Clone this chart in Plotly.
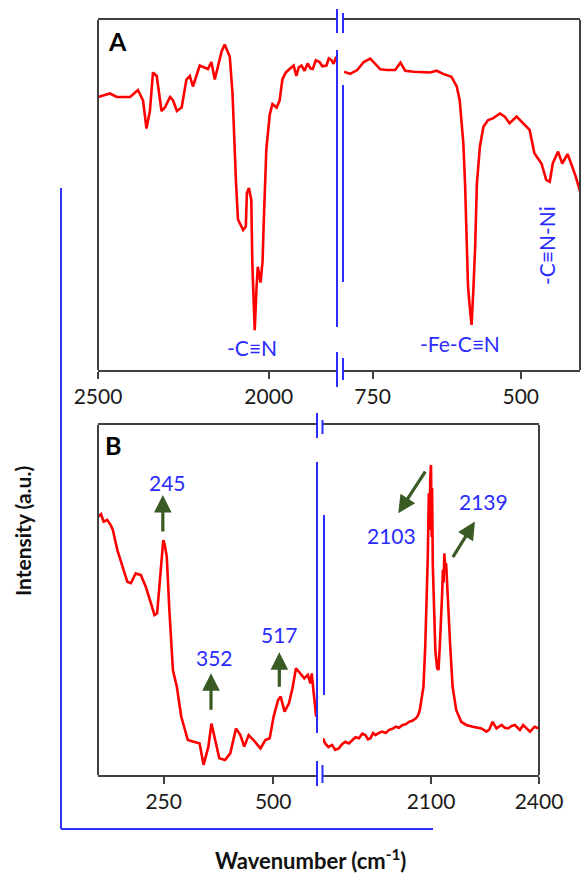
import plotly.graph_objects as go

W, H = 581, 874

# ---------------- Panel A (FTIR) ----------------
a_wn_left = [2500, 2465, 2445, 2406, 2383, 2368, 2358, 2348, 2339, 2328, 2314, 2304, 2289, 2280,
             2269, 2255, 2241, 2231, 2222, 2202, 2178, 2168, 2158, 2149, 2138, 2129, 2114, 2106,
             2102, 2096, 2090, 2075, 2067, 2064, 2058, 2051, 2048, 2044, 2041, 2036, 2032, 2024,
             2018, 2015, 2007, 1997, 1989, 1977, 1968, 1960, 1950, 1939, 1927, 1919, 1912, 1904,
             1895, 1886, 1878, 1871, 1862, 1851, 1843, 1831, 1824, 1817, 1810, 1802]
a_int_left = [78, 79, 78, 78, 80, 77, 69, 74, 85, 84, 74, 75, 78, 77,
              74, 75, 83, 84, 81, 87, 86, 88, 83, 87, 91, 93, 89.5, 79,
              68, 54, 43, 40, 41, 50.5, 52, 48.6, 30.5, 20, 11.4, 23, 29.5, 25,
              31, 41, 63, 73, 76, 75, 77, 83, 85, 86, 87, 84, 86.5, 87,
              85.5, 87.6, 86.2, 86, 88.5, 88, 86.8, 87, 89, 88.6, 87.5, 89.5]

a_wn_right = [798, 788, 776, 765, 754, 746, 737, 726, 712, 703, 695, 681, 653, 642, 631, 617,
              608, 603, 597, 594, 591, 589, 586, 583, 580, 577, 574, 569, 563, 555, 547, 535,
              527, 519, 507, 496, 485, 477, 465, 457, 451, 446, 437, 430, 421, 415, 407, 400]
a_int_right = [85.2, 84.6, 85.7, 88, 89, 87.6, 85.9, 85.7, 85.7, 87.8, 85.5, 85.2, 85, 85.5, 84.6, 83.8,
               81, 77, 65, 53.3, 39, 23.8, 18, 12.9, 22.9, 35, 53.3, 63.8, 69.5, 71.4, 71.9, 73.3,
               72.4, 70.5, 72.4, 70.5, 68.6, 61.9, 59, 54.3, 53.8, 59, 62.4, 59, 61.7, 59, 55.2, 51]

# ---------------- Panel B (Raman) ----------------
b_wn_left = [100, 107, 113, 121, 129, 134, 144, 156, 167, 175, 186, 198, 209, 221, 229, 235,
             240, 245, 249, 252, 257, 263, 271, 280, 290, 305, 317, 332, 341, 346, 352, 359, 367,
             377, 390, 402, 415, 425, 434, 444, 455, 471, 482, 492, 501, 511, 517, 526, 536,
             544, 552, 562, 571, 579, 585, 588, 594, 598]
b_int_left = [73.8, 74.5, 72.4, 72.9, 71.4, 70, 64.3, 59.5, 55.2, 54.8, 57.6, 57.1, 53.8, 49, 45.7, 46.2,
              52.9, 60, 67.1, 66, 62.4, 47, 30, 25.2, 16.7, 10, 9.5, 9, 2.9, 5.5, 8.1, 14.7, 10,
              4.8, 4.3, 6.2, 13.3, 11.4, 8.1, 11.4, 10, 7.6, 10, 10.5, 16.7, 21.4, 22.4, 18.1, 20.5,
              24.8, 30.5, 29, 27.6, 28.6, 26.2, 29, 20.5, 16.7]

b_wn_right = [1800, 1806, 1815, 1825, 1834, 1844, 1853, 1862, 1872, 1881, 1890, 1900, 1909, 1918,
              1925, 1932, 1939, 1946, 1955, 1965, 1974, 1984, 1993, 2002, 2011, 2021, 2030, 2039,
              2048, 2058, 2064, 2069, 2079, 2084, 2088, 2091, 2094, 2096, 2098, 2100, 2102, 2103,
              2105, 2107, 2112, 2117, 2121, 2125, 2128, 2131, 2133, 2135, 2137, 2139, 2142, 2146,
              2153, 2160, 2170, 2184, 2198, 2216, 2240, 2254, 2262, 2271, 2282, 2296, 2305, 2314,
              2324, 2333, 2347, 2356, 2366, 2375, 2388, 2400]
b_int_right = [10.5, 9, 8, 8.6, 7.2, 7.6, 8.8, 9.5, 9, 10, 10.8, 10.5, 11.8, 11.4,
               10.2, 10.5, 12, 11.4, 12, 12.4, 12, 12.9, 13.2, 13.8, 13.5, 14.3, 14.5, 15.2,
               15.5, 16.2, 17, 18.6, 25.2, 36.7, 50, 62, 80.5, 70, 85, 88.6, 68, 82,
               60, 52.9, 35.7, 30.5, 30, 38, 43.3, 52, 58.6, 55, 63.3, 60, 60.5, 51,
               37.6, 25.2, 18.6, 15.2, 14.3, 13.8, 13.3, 12.4, 13, 15.2, 13.3, 14.3, 13.5, 13.3,
               14, 14.3, 12.9, 14.3, 13.4, 12.4, 13.8, 13.3]

# tick labels
a_ticks_left = [2500, 2000]
a_ticks_right = [750, 500]
b_ticks_left = [250, 500]
b_ticks_right = [2100, 2400]

RED = "#ff0000"
BLUE = "#2b2bff"
GREEN = "#3a5a24"
FRAME = "#404040"
FONT = "Lato"

def X(px):
    return px / W

def Y(py):
    return 1 - py / H

fig = go.Figure()
line = dict(color=RED, width=2.6)
fig.add_trace(go.Scatter(x=a_wn_left, y=a_int_left, xaxis="x", yaxis="y", mode="lines", line=line))
fig.add_trace(go.Scatter(x=a_wn_right, y=a_int_right, xaxis="x2", yaxis="y", mode="lines", line=line))
fig.add_trace(go.Scatter(x=b_wn_left, y=b_int_left, xaxis="x3", yaxis="y2", mode="lines", line=line))
fig.add_trace(go.Scatter(x=b_wn_right, y=b_int_right, xaxis="x4", yaxis="y2", mode="lines", line=line))

xcommon = dict(showgrid=False, zeroline=False, ticks="outside", ticklen=7, tickwidth=1.5,
               tickcolor=FRAME, showline=True, linecolor=FRAME, linewidth=2, mirror=True,
               automargin=False,
               tickfont=dict(family=FONT, size=21, color="#1a1a1a"), fixedrange=True)

fig.update_layout(
    width=W, height=H, autosize=False,
    margin=dict(l=0, r=0, t=0, b=0, pad=0, autoexpand=False),
    paper_bgcolor="white", plot_bgcolor="white", showlegend=False,
    xaxis=dict(xcommon, anchor="y", domain=[X(98), X(337)], range=[2500, 1800], tickvals=a_ticks_left),
    xaxis2=dict(xcommon, anchor="y", domain=[X(343), X(580)], range=[800, 400], tickvals=a_ticks_right),
    xaxis3=dict(xcommon, anchor="y2", domain=[X(98), X(317)], range=[100, 600], tickvals=b_ticks_left),
    xaxis4=dict(xcommon, anchor="y2", domain=[X(323), X(539)], range=[1800, 2400], tickvals=b_ticks_right),
    yaxis=dict(domain=[Y(370), Y(20)], range=[0, 100], visible=False, fixedrange=True, automargin=False),
    yaxis2=dict(domain=[Y(775), Y(425)], range=[0, 100], visible=False, fixedrange=True, automargin=False),
)

shapes = []
def seg(x0, y0, x1, y1, color, width):
    shapes.append(dict(type="line", xref="paper", yref="paper", x0=X(x0), y0=Y(y0), x1=X(x1), y1=Y(y1),
                       line=dict(color=color, width=width)))

# frame sides
seg(98, 20, 98, 370, FRAME, 2)
seg(580, 20, 580, 370, FRAME, 2)
seg(98, 425, 98, 775, FRAME, 2)
seg(539, 425, 539, 775, FRAME, 2)

# break marks panel A
seg(337, 9, 337, 33, BLUE, 2)
seg(343, 13, 343, 33, BLUE, 2)
seg(337, 352, 337, 387, BLUE, 2)
seg(343, 358, 343, 380, BLUE, 2)
seg(337, 50, 337, 327, BLUE, 2)
seg(343, 85, 343, 282, BLUE, 2)
# break marks panel B
seg(317, 413, 317, 438, BLUE, 2)
seg(322.5, 420, 322.5, 434, BLUE, 2)
seg(317, 761, 317, 786, BLUE, 2)
seg(322.5, 765, 322.5, 783, BLUE, 2)
seg(317, 462, 317, 733, BLUE, 2)
seg(324, 515, 324, 695, BLUE, 2)

# big blue bracket
seg(61, 188, 61, 829, "#3333ff", 2)
seg(61, 829, 433, 829, "#3333ff", 2)

fig.update_layout(shapes=shapes)

ann = []
def text(px, py, s, size=21, color=BLUE, bold=False, angle=0):
    ann.append(dict(xref="paper", yref="paper", x=X(px), y=Y(py), text=("<b>%s</b>" % s) if bold else s,
                    showarrow=False, xanchor="center", yanchor="middle", textangle=angle,
                    font=dict(family=FONT, size=size, color=color)))

text(117, 41, "A", size=25, color="black", bold=True)
text(113, 445, "B", size=25, color="black", bold=True)
text(252, 347, "-C\u2261N")
text(460, 343, "-Fe-C\u2261N")
text(547, 246, "-C\u2261N-Ni", angle=-90)
text(167, 482, "245")
text(214, 657, "352")
text(279, 634, "517")
text(391, 535, "2103")
text(483, 501, "2139")
text(22, 531, "Intensity (a.u.)", size=21, color="#111111", bold=True, angle=-90)
text(310, 859, "Wavenumber (cm<sup>-1</sup>)", size=22, color="#111111", bold=True)

def arrow(xref, yref, x, y, ax, ay):
    ann.append(dict(xref=xref, yref=yref, x=x, y=y, ax=ax, ay=ay, axref="pixel", ayref="pixel",
                    text="", showarrow=True, arrowhead=2, arrowsize=1.1, arrowwidth=3.2,
                    arrowcolor=GREEN, standoff=0))

arrow("x3", "y2", 248, 80, 0, 38)
arrow("x3", "y2", 358, 29.1, 0, 38)
arrow("x3", "y2", 514, 35.1, 0, 36)
arrow("x4", "y2", 2009, 74.8, 28, -43)
arrow("x4", "y2", 2222, 72.4, -23, 37)

fig.update_layout(annotations=ann)

fig.write_html("out.html", config={"responsive": False, "displayModeBar": False},
               post_script="document.body.style.margin='0';document.body.style.overflow='hidden';")
